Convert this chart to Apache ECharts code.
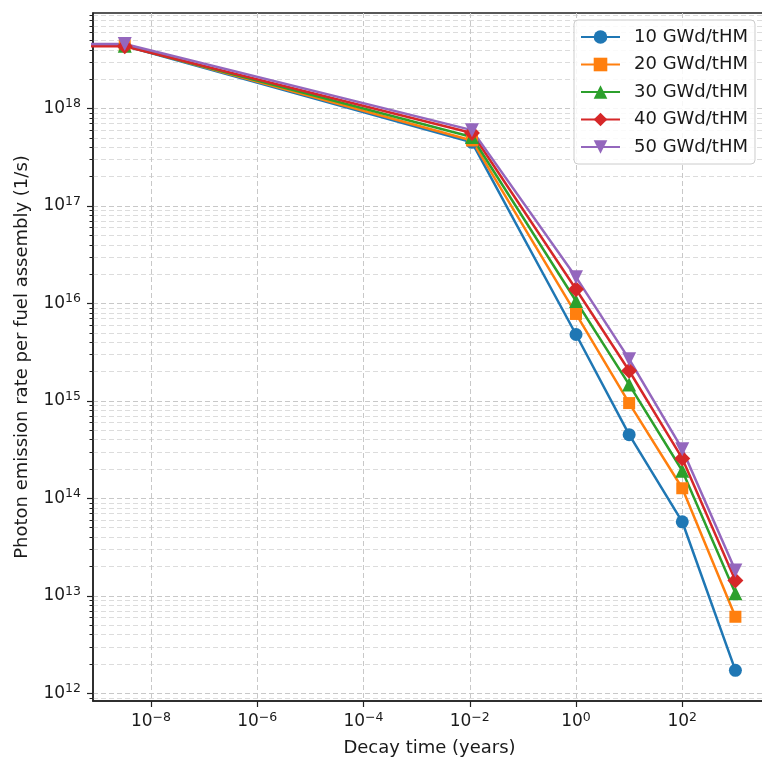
<!DOCTYPE html>
<html>
<head>
<meta charset="utf-8">
<script src="https://cdn.jsdelivr.net/npm/echarts@6/dist/echarts.min.js"></script>
<style>
  html, body { margin: 0; padding: 0; background: #fff; }
  #chart { width: 762px; height: 762px; }
</style>
</head>
<body>
<div id="chart"></div>
<script>
// decay time in years; the first entry stands in for t = 0 (falls off the left edge)
const decayYears = [1e-12, 3.2e-9, 0.011, 1, 10, 100, 1000];

const burnups = ["10 GWd/tHM", "20 GWd/tHM", "30 GWd/tHM", "40 GWd/tHM", "50 GWd/tHM"];

// photon emission rate per fuel assembly (1/s)
const rate10 = [4.4e18, 4.4e18, 4.5e17, 4.8e15, 4.5e14, 5.75e13, 1.72e12];
const rate20 = [4.45e18, 4.45e18, 4.7e17, 7.8e15, 9.5e14, 1.27e14, 6.1e12];
const rate30 = [4.4e18, 4.4e18, 5.1e17, 1.06e16, 1.47e15, 1.92e14, 1.06e13];
const rate40 = [4.35e18, 4.35e18, 5.6e17, 1.4e16, 2.04e15, 2.57e14, 1.44e13];
const rate50 = [4.6e18, 4.6e18, 6.0e17, 1.86e16, 2.68e15, 3.2e14, 1.82e13];

const xTicks = [1e-8, 1e-6, 1e-4, 1e-2, 1, 1e2];
const yTicks = [1e12, 1e13, 1e14, 1e15, 1e16, 1e17, 1e18];

const colors = ["#1f77b4", "#ff7f0e", "#2ca02c", "#d62728", "#9467bd"];
const symbols = ["circle", "rect", "triangle", "diamond", "triangle"];
const symbolSizes = [13, 12, 14, 16, 14];
const symbolRotates = [0, 0, 0, 0, 180];
const rates = [rate10, rate20, rate30, rate40, rate50];

// minor ticks 2..9 in every decade of the y range
const yMinor = [];
for (let e = 11; e <= 18; e++) {
  for (let m = 2; m <= 9; m++) yMinor.push(m * Math.pow(10, e));
}

const xMin = Math.pow(10, -9.092);
const xMax = Math.pow(10, 3.576);
const yMin = Math.pow(10, 11.921);
const yMax = Math.pow(10, 18.98);

const font = "DejaVu Sans";
const ink = "#1a1a1a";

function powLabel(v) {
  const e = Math.round(Math.log10(v));
  return "10{sup|" + (e < 0 ? "\u2212" + -e : e) + "}";
}

const labelRich = {
  sup: { fontSize: 12.5, lineHeight: 12, verticalAlign: "top", fontFamily: font, color: ink },
};

const chart = echarts.init(document.getElementById("chart"));

chart.setOption({
  animation: false,
  backgroundColor: "#fff",
  textStyle: { fontFamily: font },
  grid: {
    left: 93,
    right: -4,
    top: 13,
    bottom: 61,
    show: true,
    borderColor: "#222",
    borderWidth: 1.5,
    outerBoundsMode: "none",
  },
  legend: {
    orient: "vertical",
    left: 574,
    top: 20,
    padding: [8, 7, 8, 6],
    itemWidth: 39,
    itemHeight: 17,
    itemGap: 9.5,
    backgroundColor: "rgba(255,255,255,0.85)",
    borderColor: "#cccccc",
    borderWidth: 1,
    borderRadius: 4,
    textStyle: {
      fontSize: 18,
      lineHeight: 18,
      color: ink,
      fontFamily: font,
      padding: [0, 0, 0, 9],
    },
    data: burnups,
  },
  xAxis: {
    type: "log",
    min: xMin,
    max: xMax,
    name: "Decay time (years)",
    nameLocation: "middle",
    nameGap: 38,
    nameTextStyle: { fontSize: 18, color: ink, fontFamily: font },
    axisLine: { show: true, lineStyle: { color: "#222", width: 1.5 } },
    axisTick: {
      show: true,
      length: 6,
      customValues: xTicks,
      lineStyle: { color: "#222", width: 1.2 },
    },
    axisLabel: {
      customValues: xTicks,
      formatter: powLabel,
      fontSize: 17,
      lineHeight: 22,
      color: ink,
      margin: 10,
      fontFamily: font,
      rich: labelRich,
    },
    splitLine: {
      show: true,
      lineStyle: { color: "#c8c8c8", type: [5, 3], width: 1 },
    },
  },
  yAxis: [
    {
      type: "log",
      min: yMin,
      max: yMax,
      position: "left",
      name: "Photon emission rate per fuel assembly (1/s)",
      nameLocation: "middle",
      nameGap: 62,
      nameTextStyle: { fontSize: 18, color: ink, fontFamily: font },
      axisLine: { show: true, lineStyle: { color: "#222", width: 1.5 } },
      axisTick: {
        show: true,
        length: 6,
        customValues: yTicks,
        lineStyle: { color: "#222", width: 1.2 },
      },
      axisLabel: {
        customValues: yTicks,
        formatter: powLabel,
        fontSize: 17,
        lineHeight: 22,
        color: ink,
        margin: 12,
        fontFamily: font,
        rich: labelRich,
      },
      splitLine: {
        show: true,
        lineStyle: { color: "#c8c8c8", type: [5, 3], width: 1 },
      },
    },
    {
      type: "log",
      min: yMin,
      max: yMax,
      position: "left",
      offset: 0,
      axisLine: { show: false },
      axisTick: {
        show: true,
        length: 3.5,
        customValues: yMinor,
        lineStyle: { color: "#222", width: 1 },
      },
      axisLabel: { show: false },
      splitLine: {
        show: true,
        lineStyle: { color: "#dcdcdc", type: [5, 3], width: 1 },
      },
    },
  ],
  series: burnups.map((name, i) => ({
    name,
    type: "line",
    yAxisIndex: 0,
    data: decayYears.map((t, j) => [t, rates[i][j]]),
    color: colors[i],
    symbol: symbols[i],
    symbolSize: symbolSizes[i],
    symbolRotate: symbolRotates[i],
    showAllSymbol: true,
    clip: true,
    lineStyle: { width: 2.5, color: colors[i] },
    itemStyle: { color: colors[i] },
    emphasis: { disabled: true },
  })),
});
</script>
</body>
</html>
